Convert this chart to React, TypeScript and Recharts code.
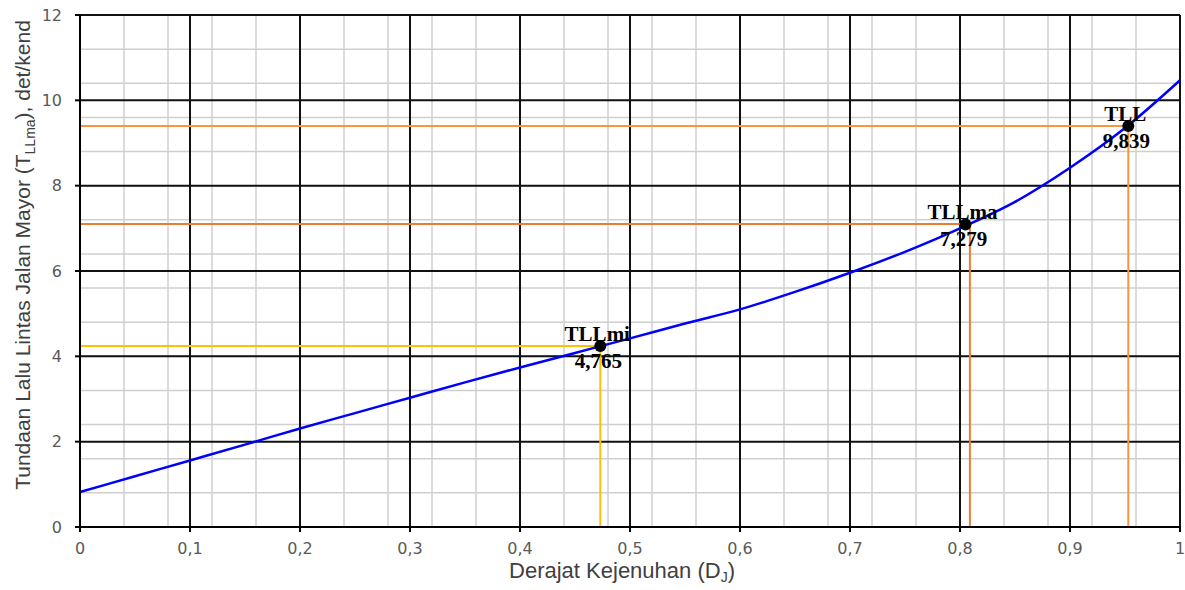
import React from "react";
import {
  ComposedChart,
  Line,
  Scatter,
  XAxis,
  YAxis,
  CartesianGrid,
  ReferenceLine,
} from "recharts";

// derajat kejenuhan (DJ) vs tundaan lalu lintas jalan mayor
const djValues = [0, 0.05, 0.1, 0.15, 0.2, 0.25, 0.3, 0.35, 0.4, 0.45, 0.5, 0.55, 0.6, 0.65, 0.7, 0.75, 0.8, 0.85, 0.9, 0.95, 1];
const delayValues = [0.82, 1.19, 1.56, 1.93, 2.31, 2.67, 3.03, 3.39, 3.74, 4.08, 4.42, 4.77, 5.1, 5.51, 5.96, 6.45, 7.0, 7.62, 8.42, 9.35, 10.47];

const pointNames = ["TLLmi", "TLLma", "TLL"];
const pointX = [0.473, 0.805, 0.953];
const pointY = [4.24, 7.09, 9.4];
const pointValues = ["4,765", "7,279", "9,839"];
const guideX = [0.473, 0.809, 0.953];
const guideY = [4.24, 7.1, 9.4];
const guideColors = ["#FFC000", "#ED7D31", "#F7963C"];

const xTicks = [0, 0.1, 0.2, 0.3, 0.4, 0.5, 0.6, 0.7, 0.8, 0.9, 1];
const yTicks = [0, 2, 4, 6, 8, 10, 12];
const xMinor = Array.from({ length: 51 }, (_, i) => i / 50);
const yMinor = Array.from({ length: 31 }, (_, i) => (i * 2) / 5);

const curveData = djValues.map((dj, i) => ({ dj, delay: delayValues[i] }));
const pointData = pointNames.map((name, i) => ({
  name,
  dj: pointX[i],
  delay: pointY[i],
  value: pointValues[i],
}));

const fmt = (v: number) => String(v).replace(".", ",");

const PointShape = (props: any) => {
  const { cx, cy, payload } = props;
  return (
    <g>
      <circle cx={cx} cy={cy} r={6} fill="#000" />
      <text
        x={cx - 3}
        y={cy - 5}
        textAnchor="middle"
        fontFamily="Liberation Serif"
        fontWeight="bold"
        fontSize={21}
        fill="#000"
      >
        {payload.name}
      </text>
      <text
        x={cx - 2}
        y={cy + 22}
        textAnchor="middle"
        fontFamily="Liberation Serif"
        fontWeight="bold"
        fontSize={21}
        fill="#000"
      >
        {payload.value}
      </text>
    </g>
  );
};

const YTitle = () => (
  <text
    transform="translate(30,255) rotate(-90)"
    textAnchor="middle"
    fontFamily="Liberation Sans"
    fontSize={21}
    fill="#404040"
  >
    Tundaan Lalu Lintas Jalan Mayor (T
    <tspan fontSize={14} dy={5}>LLma</tspan>
    <tspan dy={-5}>), det/kend</tspan>
  </text>
);

const XTitle = () => (
  <text
    x={622}
    y={578}
    textAnchor="middle"
    fontFamily="Liberation Sans"
    fontSize={22}
    fill="#404040"
  >
    Derajat Kejenuhan (D
    <tspan fontSize={14} dy={4}>J</tspan>
    <tspan dy={-4}>)</tspan>
  </text>
);

export default function App() {
  return (
    <div style={{ position: "absolute", left: 0, top: 0 }}>
      <ComposedChart
        width={1185}
        height={590}
        data={curveData}
        margin={{ top: 15, right: 5, bottom: 0, left: 0 }}
      >
        <CartesianGrid
          stroke="#cfcfcf"
          strokeWidth={1.5}
          horizontalValues={yMinor}
          verticalValues={xMinor}
        />
        <CartesianGrid
          stroke="#111"
          strokeWidth={2}
          horizontalValues={yTicks}
          verticalValues={xTicks}
        />
        <XAxis
          dataKey="dj"
          type="number"
          domain={[0, 1]}
          ticks={xTicks}
          tickFormatter={fmt}
          height={63}
          tickSize={5}
          tickMargin={11}
          stroke="#000"
          strokeWidth={2}
          tick={{ fill: "#595959", fontSize: 16, fontFamily: "DejaVu Sans" }}
          label={<XTitle />}
        />
        <YAxis
          type="number"
          domain={[0, 12]}
          ticks={yTicks}
          width={80}
          tickSize={5}
          tickMargin={13}
          stroke="#000"
          strokeWidth={2}
          tick={{ fill: "#595959", fontSize: 16, fontFamily: "DejaVu Sans" }}
          label={<YTitle />}
        />
        {guideX.map((gx, i) => (
          <ReferenceLine
            key={"h" + i}
            segment={[
              { x: 0, y: guideY[i] },
              { x: gx, y: guideY[i] },
            ]}
            stroke={guideColors[i]}
            strokeWidth={2}
          />
        ))}
        {guideX.map((gx, i) => (
          <ReferenceLine
            key={"v" + i}
            segment={[
              { x: gx, y: 0 },
              { x: gx, y: guideY[i] },
            ]}
            stroke={guideColors[i]}
            strokeWidth={2}
          />
        ))}
        <Line
          dataKey="delay"
          type="monotone"
          stroke="#0000FF"
          strokeWidth={2.5}
          dot={false}
          isAnimationActive={false}
        />
        <Scatter
          data={pointData}
          dataKey="delay"
          shape={<PointShape />}
          isAnimationActive={false}
        />
      </ComposedChart>
    </div>
  );
}
